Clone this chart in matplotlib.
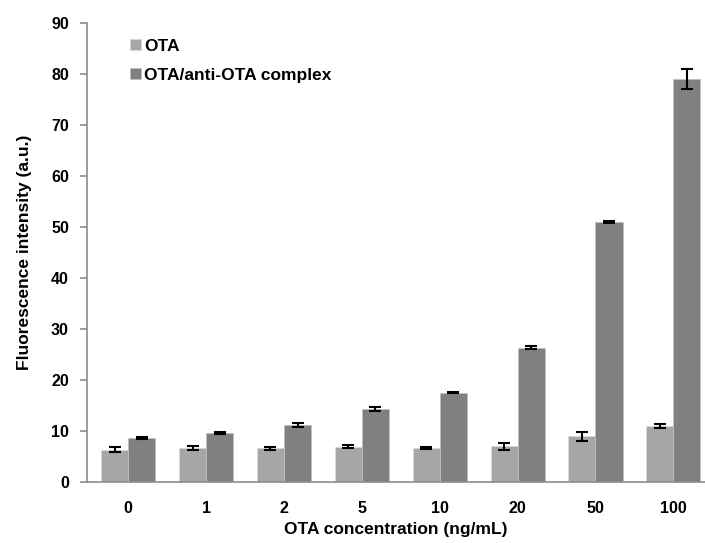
import numpy as np
import matplotlib.pyplot as plt

plt.rcParams['font.family'] = ['Liberation Sans', 'DejaVu Sans']
plt.rcParams['font.weight'] = 'bold'

categories = ['0', '1', '2', '5', '10', '20', '50', '100']
ota = [6.3, 6.6, 6.6, 6.9, 6.7, 7.0, 9.0, 10.9]
ota_err = [0.5, 0.4, 0.3, 0.3, 0.15, 0.7, 0.9, 0.4]
complex_vals = [8.6, 9.6, 11.1, 14.4, 17.5, 26.3, 51.0, 79.0]
complex_err = [0.2, 0.15, 0.4, 0.4, 0.1, 0.3, 0.2, 2.0]

x = np.arange(len(categories))
w = 0.347

fig = plt.figure(figsize=(7.05, 5.43), dpi=100)
ax = fig.add_axes([0.1234, 0.1123, 0.877, 0.8453])

err_kw = dict(ecolor='black', elinewidth=1.5, capsize=4, capthick=1.5)
ax.bar(x - w / 2, ota, w, yerr=ota_err, color='#a6a6a6', edgecolor='#d9d9d9',
       linewidth=0.6, label='OTA', error_kw=err_kw)
ax.bar(x + w / 2, complex_vals, w, yerr=complex_err, color='#808080', edgecolor='#bfbfbf',
       linewidth=0.6, label='OTA/anti-OTA complex', error_kw=err_kw)

ax.set_xlim(-0.53, 7.41)
ax.set_ylim(0, 90)
ax.set_yticks(range(0, 91, 10))
ax.set_xticks(x)
ax.set_xticklabels(categories)

for s in ['top', 'right']:
    ax.spines[s].set_visible(False)
for s in ['left', 'bottom']:
    ax.spines[s].set_color('#8c8c8c')
    ax.spines[s].set_linewidth(1.2)

ax.tick_params(axis='x', length=0, pad=14, labelsize=11.5)
ax.tick_params(axis='y', length=5, color='#8c8c8c', width=1.2, pad=8, labelsize=11.5)

ax.set_xlabel('OTA concentration (ng/mL)', fontsize=12.5, fontweight='bold', labelpad=4)
ax.set_ylabel('Fluorescence intensity (a.u.)', fontsize=12.5, fontweight='bold', labelpad=14)

ax.legend(loc='upper left', bbox_to_anchor=(0.045, 1.0), frameon=False,
          fontsize=12.5, handlelength=0.6, handleheight=0.6, handletextpad=0.2,
          labelspacing=0.8)

fig.savefig('out.png', dpi=100)
